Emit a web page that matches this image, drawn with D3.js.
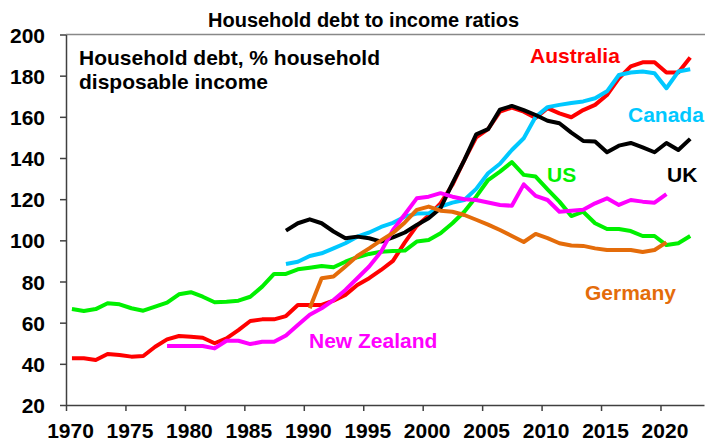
<!DOCTYPE html>
<html>
<head>
<meta charset="utf-8">
<script src="https://cdn.jsdelivr.net/npm/d3@7"></script>
<style>
  body { margin: 0; background: #fff; }
  svg { font-family: "Liberation Sans", Arial, sans-serif; font-weight: bold; }
</style>
</head>
<body>
<script>
const width = 705
const height = 441
const margin = { top: 34.5, right: 1, bottom: 36, left: 66 }

// values, one per year from the start year
const australiaStart = 1970
const australia = [42.7, 42.7, 41.9, 44.8, 44.3, 43.5, 43.8, 48.3, 51.9, 53.5,
  53.2, 52.7, 50.0, 52.4, 56.4, 60.8, 61.6, 61.6, 63.2, 68.6,
  68.6, 68.6, 70.7, 73.5, 78.3, 81.6, 85.6, 90.0, 99.0, 107.0,
  112.0, 118.0, 127.0, 139.0, 150.0, 154.0, 162.5, 164.5, 162.5, 159.5,
  164.2, 161.7, 159.8, 163.3, 165.8, 170.6, 178.7, 184.5, 186.5, 186.5,
  181.5, 181.5, 188.8]

const usStart = 1970
const us = [66.6, 65.7, 66.6, 69.4, 68.9, 67.0, 65.8, 67.8, 69.7, 73.8,
  74.8, 72.6, 69.9, 70.2, 70.7, 72.6, 77.5, 83.7, 83.7, 85.9,
  86.7, 87.5, 86.9, 89.6, 91.8, 93.4, 94.5, 94.8, 95.0, 99.4,
  100.2, 103.4, 108.3, 113.9, 121.2, 129.3, 133.4, 138.0, 131.8, 131.0,
  124.8, 118.8, 111.8, 113.9, 108.3, 105.5, 105.5, 104.5, 102.1, 102.1,
  97.7, 98.6, 102.1]

const canadaStart = 1988
const canada = [88.5, 89.6, 92.4, 93.7, 96.1, 98.6, 101.8, 103.8, 106.5, 108.5,
  111.5, 113.0, 113.1, 116.4, 118.3, 119.6, 125.0, 132.6, 137.2, 143.9,
  149.6, 160.0, 164.7, 165.8, 166.7, 167.5, 169.0, 172.4, 180.3, 181.5,
  182.0, 181.2, 173.9, 182.0, 183.1]

const ukStart = 1988
const uk = [104.7, 108.3, 110.2, 108.3, 104.3, 101.0, 101.8, 101.0, 99.4, 101.4,
  103.8, 107.5, 110.7, 115.6, 127.7, 139.0, 151.5, 154.0, 163.5, 165.3,
  163.3, 160.9, 158.1, 156.9, 152.3, 148.3, 148.0, 142.8, 146.0, 147.3,
  145.2, 142.8, 147.3, 143.9, 149.3]

const nzStart = 1978
const nz = [48.7, 48.7, 48.7, 48.7, 47.5, 51.2, 51.2, 49.6, 50.7, 50.7,
  53.8, 58.9, 63.9, 67.0, 71.0, 75.9, 81.6, 87.3, 94.5, 105.0,
  112.7, 120.4, 121.2, 122.9, 121.2, 120.0, 119.6, 118.4, 117.2, 116.8,
  127.2, 121.6, 119.6, 113.9, 114.4, 114.8, 118.0, 120.4, 117.2, 119.6,
  118.8, 118.3, 122.5]

const germanyStart = 1990
const germany = [67.0, 81.6, 82.4, 87.3, 92.4, 96.1, 100.0, 103.6, 108.7, 114.8,
  116.4, 114.4, 113.9, 112.3, 110.0, 107.6, 105.0, 102.1, 99.2, 103.1,
  101.1, 98.6, 97.5, 97.3, 96.1, 95.3, 95.3, 95.3, 94.3, 95.3,
  99.0]

const yTicks = [20, 40, 60, 80, 100, 120, 140, 160, 180, 200]
const xTicks = [1970, 1975, 1980, 1985, 1990, 1995, 2000, 2005, 2010, 2015, 2020]

const series = [
  { name: "Australia", start: australiaStart, values: australia, color: "#ff0000", label: [530, 63] },
  { name: "Canada", start: canadaStart, values: canada, color: "#00c8ff", label: [628, 122] },
  { name: "US", start: usStart, values: us, color: "#00f000", label: [547, 182] },
  { name: "UK", start: ukStart, values: uk, color: "#000000", label: [667, 182] },
  { name: "New Zealand", start: nzStart, values: nz, color: "#ff00ff", label: [309, 348] },
  { name: "Germany", start: germanyStart, values: germany, color: "#e46c0a", label: [585, 300] }
]

const svg = d3.select("body").append("svg").attr("width", width).attr("height", height)

const x = d3.scaleLinear().domain([1970, 2023.66]).range([margin.left, width - margin.right])
const y = d3.scaleLinear().domain([20, 200]).range([height - margin.bottom, margin.top])

// plot top border
svg.append("line")
  .attr("x1", margin.left).attr("x2", width)
  .attr("y1", y(200)).attr("y2", y(200))
  .style("stroke", "#888").style("stroke-width", 1.5)

const yAxis = svg.append("g")
  .attr("transform", `translate(${margin.left},0)`)
  .call(d3.axisLeft(y).tickValues(yTicks).tickSize(6).tickSizeOuter(0).tickPadding(15))
yAxis.selectAll("text").style("font-size", "21px").style("fill", "#000").attr("dy", "0.36em")

const xAxis = svg.append("g")
  .attr("transform", `translate(0,${y(20)})`)
  .call(d3.axisBottom(x).tickValues(xTicks).tickFormat(d3.format("d")).tickSize(6).tickSizeOuter(0).tickPadding(12))
xAxis.selectAll("text").style("font-size", "21px").style("fill", "#000").attr("dx", "4")

svg.selectAll(".domain, .tick line").style("stroke", "#404040").style("stroke-width", 1.5)

const line = d3.line()
  .x(d => x(d.year + 0.5))
  .y(d => y(d.value))

series.forEach(s => {
  const pts = s.values.map((v, i) => ({ year: s.start + i, value: v }))
  svg.append("path")
    .attr("d", line(pts))
    .style("fill", "none")
    .style("stroke", s.color)
    .style("stroke-width", 4)
    .style("stroke-linejoin", "round")
})

series.forEach(s => {
  svg.append("text")
    .attr("x", s.label[0]).attr("y", s.label[1])
    .style("font-size", "21px")
    .style("fill", s.color)
    .text(s.name)
})

svg.append("text")
  .attr("x", 208).attr("y", 27)
  .style("font-size", "20px")
  .text("Household debt to income ratios")

svg.append("text")
  .attr("x", 79).attr("y", 65)
  .style("font-size", "21px")
  .text("Household debt, % household")

svg.append("text")
  .attr("x", 79).attr("y", 89)
  .style("font-size", "21px")
  .text("disposable income")
</script>
</body>
</html>
